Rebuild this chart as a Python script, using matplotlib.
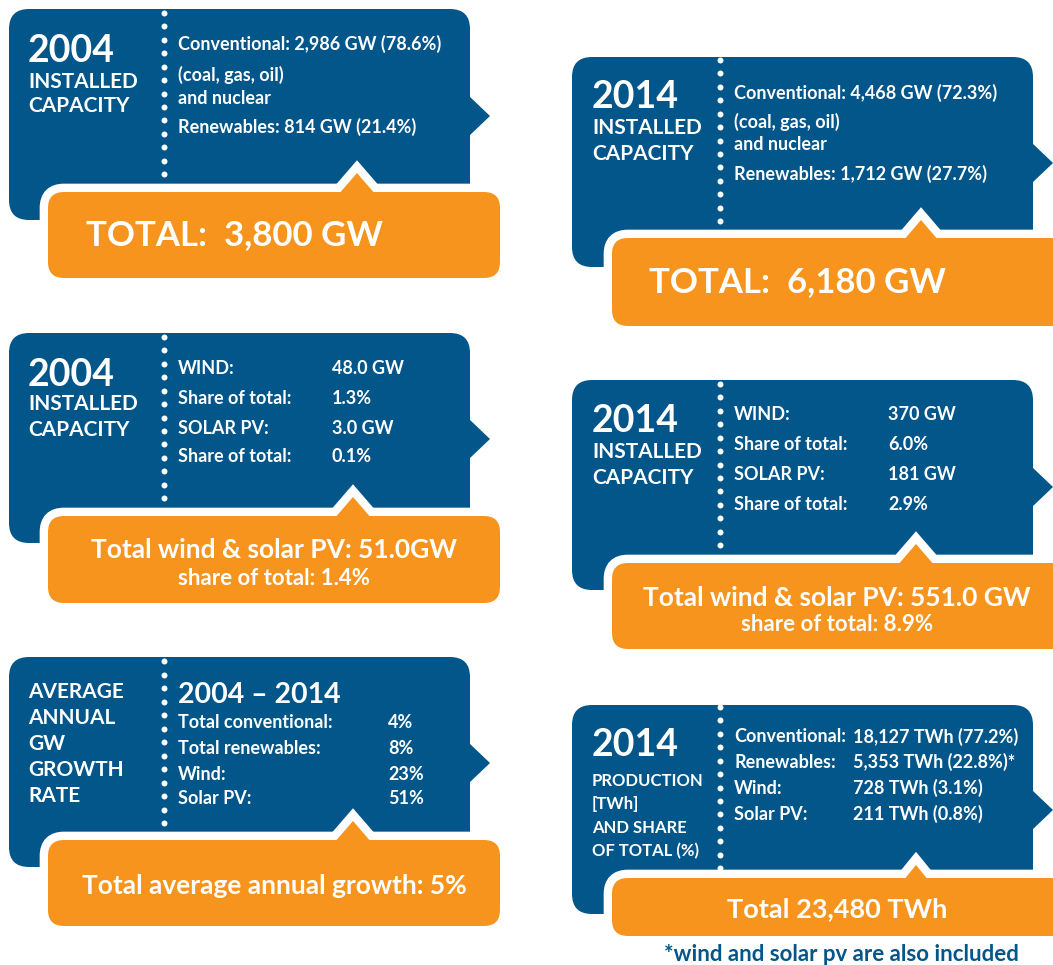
import numpy as np
import matplotlib.pyplot as plt
from matplotlib.patches import FancyBboxPatch, Polygon

BLUE = '#03568a'
ORANGE = '#f7941e'
FONT = 'Lato'

# panel texts
cap04_rows = ["Conventional: 2,986 GW (78.6%)", "(coal, gas, oil)", "and nuclear",
              "Renewables: 814 GW (21.4%)"]
cap04_total = "TOTAL:  3,800 GW"
cap14_rows = ["Conventional: 4,468 GW (72.3%)", "(coal, gas, oil)", "and nuclear",
              "Renewables: 1,712 GW (27.7%)"]
cap14_total = "TOTAL:  6,180 GW"

ws_labels = ["WIND:", "Share of total:", "SOLAR PV:", "Share of total:"]
ws04_values = ["48.0 GW", "1.3%", "3.0 GW", "0.1%"]
ws04_total = ["Total wind & solar PV: 51.0GW", "share of total: 1.4%"]
ws14_values = ["370 GW", "6.0%", "181 GW", "2.9%"]
ws14_total = ["Total wind & solar PV: 551.0 GW", "share of total: 8.9%"]

growth_title = ["AVERAGE", "ANNUAL", "GW", "GROWTH", "RATE"]
growth_period = "2004 – 2014"
growth_labels = ["Total conventional:", "Total renewables:", "Wind:", "Solar PV:"]
growth_values = ["4%", "8%", "23%", "51%"]
growth_total = "Total average annual growth: 5%"

prod_title = ["PRODUCTION", "[TWh]", "AND SHARE", "OF TOTAL (%)"]
prod_labels = ["Conventional:", "Renewables:", "Wind:", "Solar PV:"]
prod_values = ["18,127 TWh (77.2%)", "5,353 TWh (22.8%)*", "728 TWh (3.1%)", "211 TWh (0.8%)"]
prod_total = "Total 23,480 TWh"
footnote = "*wind and solar pv are also included"

fig = plt.figure(figsize=(10.53, 9.65), dpi=100)
ax = fig.add_axes([0, 0, 1, 1])
ax.set_xlim(0, 1053)
ax.set_ylim(965, 0)
ax.axis('off')


def blue_box(x0, y0, x1, y1, arrow_y, dot_x, dot_y0, dot_y1):
    ax.add_patch(FancyBboxPatch((x0, y0), x1 - x0, y1 - y0,
                                boxstyle="round,pad=0,rounding_size=20",
                                fc=BLUE, ec='none', zorder=1))
    ax.add_patch(Polygon([(x1 - 1, arrow_y - 20), (x1 + 20, arrow_y), (x1 - 1, arrow_y + 20)],
                         fc=BLUE, ec='none', zorder=1))
    ax.plot(np.full(13, dot_x), np.linspace(dot_y0, dot_y1, 13), 'o',
            color='white', ms=4.3, mec='none', zorder=1.5)


def orange_box(x0, y0, x1, y1, notch_x, h):
    for z, ec, lw in [(2, 'white', 12), (3, 'none', 0)]:
        ax.add_patch(FancyBboxPatch((x0, y0), x1 - x0, y1 - y0,
                                    boxstyle="round,pad=0,rounding_size=16",
                                    fc=ORANGE, ec=ec, lw=lw, zorder=z))
        ax.add_patch(Polygon([(notch_x - h, y0 + 3), (notch_x, y0 - h), (notch_x + h, y0 + 3)],
                             fc=ORANGE, ec=ec, lw=lw, joinstyle='miter', zorder=z))


def txt(x, yc, s, size, ha='left', color='white'):
    px = size * 100 / 72
    ax.text(x, yc + 0.36 * px, s, fontsize=size, color=color, fontweight='bold',
            family=FONT, ha=ha, va='baseline', zorder=5)


# panel 1: 2004 installed capacity
blue_box(9, 9, 470, 220, 116, 164, 13, 174)
orange_box(48, 192, 500, 278, 357, 19)
txt(28, 48, "2004", 27)
txt(28, 80, "INSTALLED", 15)
txt(28, 104, "CAPACITY", 15)
for y, s in zip([43, 74, 97, 126], cap04_rows):
    txt(178, y, s, 13)
txt(86, 233, cap04_total, 25)

# panel 2: 2014 installed capacity
blue_box(572, 57, 1033, 267, 163, 720, 60, 221)
orange_box(612, 238, 1068, 326, 921, 18)
txt(592, 95, "2014", 27)
txt(592, 127, "INSTALLED", 15)
txt(592, 152, "CAPACITY", 15)
for y, s in zip([92, 121, 144, 173], cap14_rows):
    txt(734, y, s, 13)
txt(649, 280, cap14_total, 25)

# panel 3: 2004 wind & solar
blue_box(9, 333, 470, 543, 439, 164, 337, 498)
orange_box(48, 516, 500, 603, 353, 19)
txt(28, 373, "2004", 27)
txt(28, 403, "INSTALLED", 15)
txt(28, 428, "CAPACITY", 15)
for y, a, b in zip([367, 397, 427, 456], ws_labels, ws04_values):
    txt(178, y, a, 13)
    txt(332, y, b, 13)
txt(274, 549, ws04_total[0], 19, ha='center')
txt(274, 577, ws04_total[1], 16, ha='center')

# panel 4: 2014 wind & solar
blue_box(572, 380, 1033, 590, 487, 720, 384, 545)
orange_box(612, 563, 1068, 649, 916, 19)
txt(592, 419, "2014", 27)
txt(592, 450, "INSTALLED", 15)
txt(592, 476, "CAPACITY", 15)
for y, a, b in zip([414, 444, 473, 503], ws_labels, ws14_values):
    txt(734, y, a, 13)
    txt(888, y, b, 13)
txt(837, 596, ws14_total[0], 19, ha='center')
txt(837, 623, ws14_total[1], 16, ha='center')

# panel 5: growth rates
blue_box(9, 657, 470, 867, 763, 164, 661, 823)
orange_box(48, 840, 500, 926, 353, 19)
for y, s in zip([691, 717, 742, 768, 794], growth_title):
    txt(28, y, s, 15)
txt(178, 693, growth_period, 20.5)
for y, a, b in zip([722, 747, 773, 797], growth_labels, growth_values):
    txt(178, y, a, 13)
    txt(388, y, b, 13)
txt(274, 884, growth_total, 19, ha='center')

# panel 6: 2014 production
blue_box(572, 705, 1033, 914, 810, 720, 707, 868)
orange_box(612, 878, 1068, 936, 916, 13)
txt(592, 743, "2014", 27)
for y, s in zip([780, 803, 827, 850], prod_title):
    txt(592, y, s, 12)
for y, a, b in zip([736, 761, 787, 813], prod_labels, prod_values):
    txt(734, y, a, 13)
    txt(853, y, b, 13)
txt(837, 907, prod_total, 19.5, ha='center')
txt(841, 953, footnote, 16, ha='center', color=BLUE)

fig.savefig("out.png", dpi=100)
